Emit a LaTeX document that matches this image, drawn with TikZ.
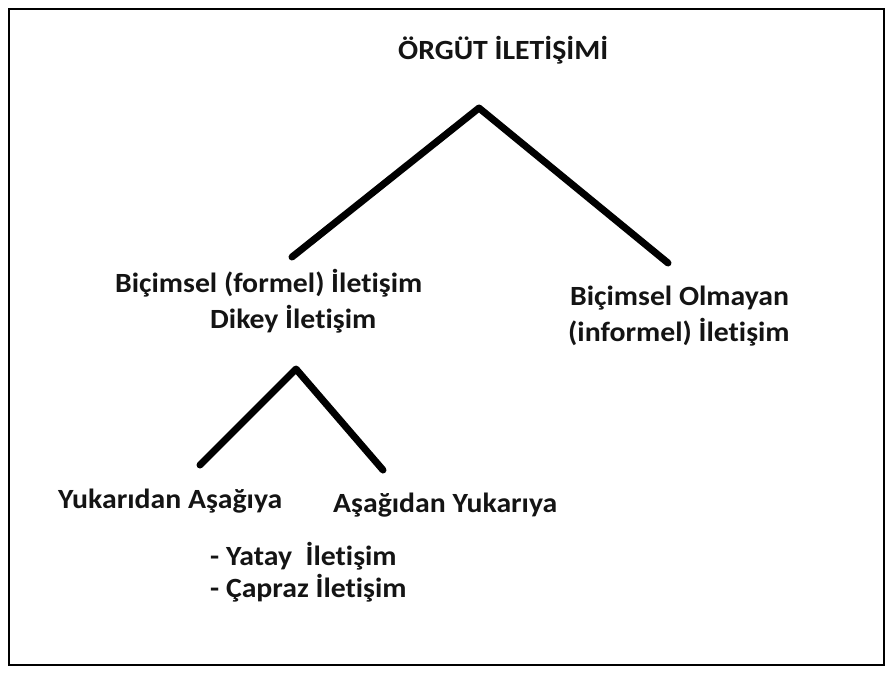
\documentclass[tikz,border=0pt]{standalone}
\usepackage{fontspec}
\setmainfont{Carlito}[BoldFont={Carlito Bold}, Ligatures=NoCommon, FakeStretch=1.07]
\begin{document}
\begin{tikzpicture}[x=1pt,y=-1pt,
  lbl/.style={font=\bfseries\fontsize{27.8}{33}\selectfont, inner sep=0pt, anchor=base west, text=black!92},
  branch/.style={line width=7pt, line cap=round, line join=round}]
\useasboundingbox (0,0) rectangle (891,673);
\draw[line width=1.6pt] (9,9) rectangle (884,665);
% labels
\node[lbl] (root) at (398,59) {ÖRGÜT İLETİŞİMİ};
\node[lbl] (formal) at (115,292) {Biçimsel (formel) İletişim};
\node[lbl] (dikey) at (210,328) {Dikey İletişim};
\node[lbl] (inf1) at (570,305) {Biçimsel Olmayan};
\node[lbl] (inf2) at (568,341) {(informel) İletişim};
\node[lbl] (down) at (58,508) {Yukarıdan Aşağıya};
\node[lbl] (up) at (333,512) {Aşağıdan Yukarıya};
\node[lbl] (yatay) at (210,565) {- Yatay~ İletişim};
\node[lbl] (capraz) at (210,597) {- Çapraz İletişim};
% branches
\coordinate (a1) at (479,108);
\coordinate (l1) at (292,257);
\coordinate (r1) at (668,263);
\coordinate (a2) at (296,369);
\coordinate (l2) at (200,465);
\coordinate (r2) at (383,470);
\draw[branch] (l1) -- (a1) -- (r1);
\draw[branch] (l2) -- (a2) -- (r2);
\end{tikzpicture}
\end{document}
